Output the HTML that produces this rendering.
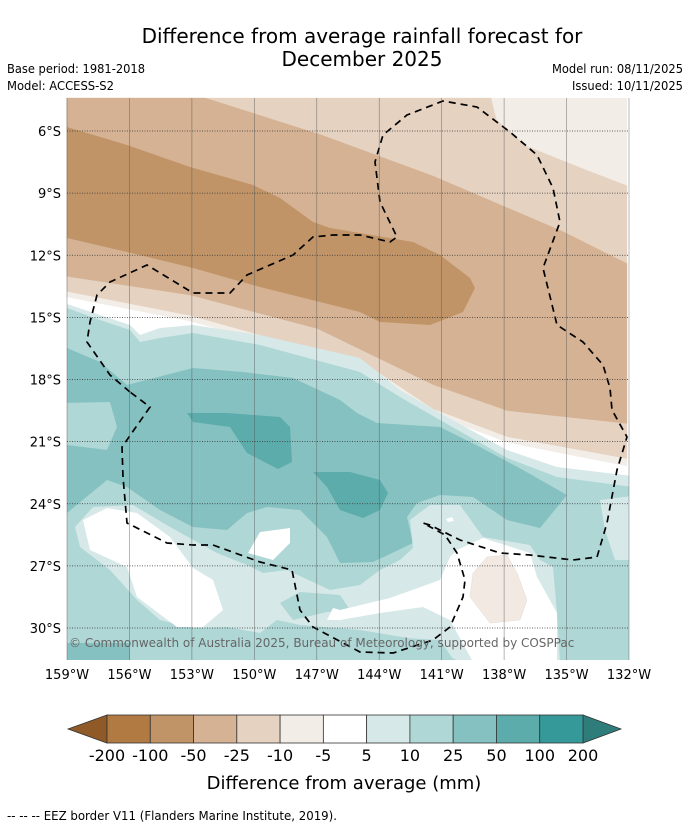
<!DOCTYPE html>
<html><head><meta charset="utf-8">
<style>
html,body{margin:0;padding:0;background:#fff;}
svg{display:block;font-family:"DejaVu Sans","Liberation Sans",sans-serif;}
</style></head>
<body>
<svg id="fig" width="690" height="827" viewBox="0 0 690 827" xmlns="http://www.w3.org/2000/svg">
  <text x="362" y="43" font-size="20" text-anchor="middle" fill="#000">Difference from average rainfall forecast for</text>
  <text x="362" y="66" font-size="20" text-anchor="middle" fill="#000">December 2025</text>
  <text x="7" y="73" font-size="12" textLength="138" lengthAdjust="spacingAndGlyphs">Base period: 1981-2018</text>
  <text x="7" y="90" font-size="12" textLength="107" lengthAdjust="spacingAndGlyphs">Model: ACCESS-S2</text>
  <text x="683" y="73" font-size="12" text-anchor="end" textLength="131" lengthAdjust="spacingAndGlyphs">Model run: 08/11/2025</text>
  <text x="683" y="90" font-size="12" text-anchor="end" textLength="111" lengthAdjust="spacingAndGlyphs">Issued: 10/11/2025</text>

  <defs>
    <clipPath id="mc"><rect x="18" y="21" width="1502" height="1507"/></clipPath>
    <clipPath id="mc2"><rect x="67" y="98" width="562" height="562"/></clipPath>
  </defs>
  <g id="map" transform="translate(60,90) scale(0.3731)">
   <g clip-path="url(#mc)">
    <rect x="0" y="0" width="1600" height="1600" fill="#ffffff"/>
    <polygon fill="#F3EDE7" points="0,0 1600,0 1600,1010 1530,1010 1400,985 1200,945 1000,870 850,770 690,715 350,620 18,555 0,555"/>
    <polygon fill="#E5D2C0" points="0,0 1150,0 1170,80 1250,150 1400,210 1530,260 1600,270 1600,990 1530,990 1200,930 1000,855 850,755 690,700 350,605 18,540 0,540"/>
    <polygon fill="#D4B293" points="0,0 380,0 380,18 700,120 1000,230 1350,380 1530,470 1600,480 1600,895 1530,895 1200,860 1000,790 690,640 350,550 18,500 0,500"/>
   </g>
  </g>
  <g clip-path="url(#mc2)">
    <polygon fill="#C19468" points="60,126 67,127 127,145 190,167 253,185 280,198 313,222 330,228 413,242 440,255 470,278 475,288 463,312 430,325 380,322 360,312 260,287 193,268 127,252 67,238 60,238"/>
    <polygon fill="#D6E9E8" points="60,304 67,304 100,315 130,325 140,335 160,328 193,325 260,335 360,358 400,390 440,413 507,450 557,467 640,477 640,670 60,670"/>
    <polygon fill="#AED7D6" points="60,308 67,308 100,320 130,330 140,342 160,338 193,333 260,345 360,372 400,397 440,420 507,458 557,477 640,488 640,670 60,670"/>
    <polygon fill="#D6E9E8" points="600,500 640,495 640,560 615,560 605,530"/>
    <polygon fill="#85C1C0" points="60,348 67,348 100,362 127,385 193,368 243,372 293,378 340,400 357,413 377,423 440,427 480,447 523,470 567,495 540,528 507,520 473,497 440,495 417,503 407,517 413,543 373,562 340,563 327,537 300,510 267,507 247,513 227,530 193,527 160,510 127,487 107,480 67,513 60,513"/>
    <polygon fill="#AED7D6" points="60,403 110,402 117,427 107,450 67,445 60,445"/>
    <polygon fill="#5DACAC" points="187,413 227,413 280,417 290,427 292,462 278,469 247,453 230,427 193,422"/>
    <polygon fill="#5DACAC" points="313,472 350,472 380,480 388,493 380,510 363,518 340,510 327,487"/>
    <polygon fill="#D6E9E8" points="75,527 93,507 133,505 170,527 217,553 247,565 263,573 287,570 330,590 360,585 380,570 400,560 413,548 410,520 430,505 460,505 483,537 530,545 540,560 553,567 607,560 617,597 613,620 630,633 630,662 557,662 460,662 420,640 360,630 300,625 277,620 260,633 227,627 193,628 160,620 137,600 110,570 80,547"/>
    <polygon fill="#AED7D6" points="280,603 300,592 340,595 350,610 327,612 293,620"/>
    <polygon fill="#AED7D6" points="370,662 378,645 405,638 440,640 455,662"/>
    <polygon fill="#85C1C0" points="60,643 130,643 130,662 60,662"/>
    <polygon fill="#AED7D6" points="553,567 607,560 617,597 613,620 630,633 630,662 560,662 557,613"/>
    <polygon fill="#ffffff" points="83,520 107,508 137,513 170,537 193,568 213,580 223,610 203,627 177,627 137,597 127,567 90,550"/>
    <polygon fill="#ffffff" points="260,532 290,528 290,543 273,560 248,553"/>
    <polygon fill="#ffffff" points="327,620 333,608 340,610 390,598 440,580 450,557 457,550 483,538 530,553 537,577 557,613 557,662 473,662 450,620 423,607 380,613 340,620"/>
    <polygon fill="#ffffff" points="446,519 452,517 454,521 448,522"/>
    <polygon fill="#F1E9E2" stroke="#e5dbd2" stroke-width="0.5" points="487,557 507,555 517,573 527,600 520,620 490,623 470,597 473,573"/>
    <polyline fill="none" stroke="#000" stroke-width="1.7" stroke-dasharray="7,5" points="130,392 110,375 87,342 90,322 97,295 110,282 147,265 193,293 230,293 247,275 293,255 313,237 333,235 360,235 390,242 397,237 380,202 375,162 383,135 407,115 443,101 477,107 510,132 537,155 553,188 560,222 543,268 557,325 583,342 603,365 610,388 612,410 627,437 617,470 607,523 597,557 573,560 530,555 500,553 460,540 430,525 423,523 445,535 457,553 465,580 463,597 450,627 433,640 393,653 360,652 343,643 313,627 300,610 292,570 260,562 213,545 193,545 167,543 127,523 123,477 122,447 150,407 130,392"/>
  </g>
  <g id="grid"></g>
  <text x="69" y="647" font-size="12" fill="#666">© Commonwealth of Australia 2025, Bureau of Meteorology, supported by COSPPac</text>
  <g id="axes"></g>
  <g id="cbar"></g>
  <text x="344" y="789" font-size="18" text-anchor="middle">Difference from average (mm)</text>
  <text x="7" y="820" font-size="12" textLength="330" lengthAdjust="spacingAndGlyphs">--  --  -- EEZ border V11 (Flanders Marine Institute, 2019).</text>
</svg>
<script>
const lonTicks = [159,156,153,150,147,144,141,138,135,132];
const latTicks = [6,9,12,15,18,21,24,27,30];
const levelLabels = ["-200","-100","-50","-25","-10","-5","5","10","25","50","100","200"];
const bandColors = ["#B07A42","#C19468","#D4B293","#E5D2C0","#F3EDE7","#FFFFFF","#D6E9E8","#AED7D6","#85C1C0","#5DACAC","#35999A"];
const extendColors = ["#8F5A28","#2E7D7B"];

const NS = "http://www.w3.org/2000/svg";
const mapL = 67, mapR = 629, mapT = 98, mapB = 660;
function xLon(lon){ return mapL + (159 - lon) * (mapR - mapL) / 27; }
function yLat(lat){ return 131 + (lat - 6) * (628 - 131) / 24; }
function mk(tag, attrs, parent){ const e = document.createElementNS(NS, tag); for (const k in attrs) e.setAttribute(k, attrs[k]); parent.appendChild(e); return e; }

const grid = document.getElementById('grid');
const axes = document.getElementById('axes');
lonTicks.forEach(lon => {
  const x = xLon(lon);
  const l = mk('line', {x1:x, x2:x, y1:mapT, y2:mapB, stroke:'#555', 'stroke-width':0.6, 'stroke-opacity':0.7}, grid);
  
  
  const t = mk('text', {x:x, y:679, 'font-size':13, 'text-anchor':'middle'}, axes);
  t.textContent = lon + '°W';
  
  
});
latTicks.forEach(lat => {
  const y = yLat(lat);
  const l = mk('line', {x1:mapL, x2:mapR, y1:y, y2:y, stroke:'#333', 'stroke-width':0.7, 'stroke-dasharray':'1,1.5'}, grid);
  
  
  const t = mk('text', {x:61, y:y+5, 'font-size':13, 'text-anchor':'end'}, axes);
  t.textContent = lat + '°S';
  
  
});

const cb = document.getElementById('cbar');
const cbL = 107, cbR = 583, cbT = 715, cbB = 743;
const bw = (cbR - cbL) / bandColors.length;
function xLevel(i){ return cbL + i * bw; }
const lt = mk('polygon', {points:`${cbL},${cbT} 68,${(cbT+cbB)/2} ${cbL},${cbB}`, fill:extendColors[0], stroke:'#333', 'stroke-width':0.8}, cb);


const rt = mk('polygon', {points:`${cbR},${cbT} 621,${(cbT+cbB)/2} ${cbR},${cbB}`, fill:extendColors[1], stroke:'#333', 'stroke-width':0.8}, cb);


bandColors.forEach((c, i) => {
  const r = mk('rect', {x:xLevel(i), y:cbT, width:bw, height:cbB-cbT, fill:c, stroke:'#333', 'stroke-width':0.8}, cb);
  
  
});
levelLabels.forEach((s, i) => {
  const t = mk('text', {x:xLevel(i), y:761, 'font-size':16, 'text-anchor':'middle'}, cb);
  t.textContent = s;
  
  
});
</script>
</body></html>
